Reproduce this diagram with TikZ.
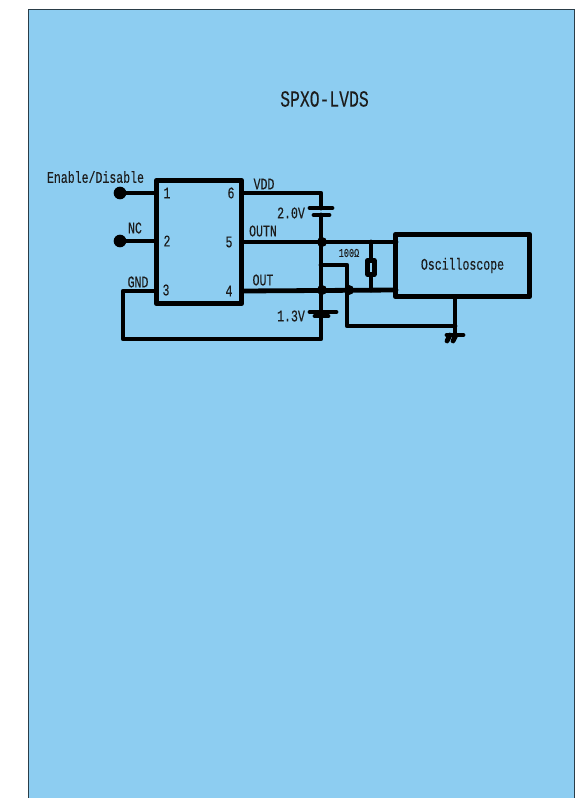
\documentclass[tikz,border=0pt]{standalone}
\usepackage{fontspec}
\setmainfont{Liberation Mono}[FakeStretch=0.71,FakeBold=0.2]
\definecolor{panelblue}{RGB}{141,205,241}
\definecolor{inkgrey}{RGB}{28,28,28}
\begin{document}
\begin{tikzpicture}
            [x=0.75pt,y=-0.75pt,
            wire/.style={line width=3.6pt, black, line cap=round, line join=round},
            plate/.style={line width=3.6pt, black, line cap=round},
            lbl/.style={inkgrey, inner sep=0, font=\fontsize{12.2}{12.2}\selectfont}]

            \useasboundingbox (0,0) rectangle (587,798);
            \fill[white] (0,0) rectangle (587,798);
            \draw[panelblue!30!black, fill=panelblue, line width=1.3pt] (28.5,9.5) rectangle (574.5,810);

            % chip and scope
            \node[draw, wire, minimum width=64pt, minimum height=92.6pt, inner sep=0] (chip) at (199,242) {};
            \node[draw, wire, minimum width=100.9pt, minimum height=46.9pt, inner sep=0, lbl, draw=black] (scope) at (462.5,265.5) {Oscilloscope};
            \node[draw, wire, fill=panelblue, minimum width=4.7pt, minimum height=10.7pt, inner sep=0] (res) at (371,267.5) {};

            % pin ends
            \coordinate (p1) at (156,193);
            \coordinate (p2) at (156,241);
            \coordinate (p3) at (156,291);
            \coordinate (p4) at (243,291);
            \coordinate (p5) at (243,242);
            \coordinate (p6) at (243,193);
            \node[circle, fill=black, inner sep=0, minimum size=9.5pt] (d1) at (120,193) {};
            \node[circle, fill=black, inner sep=0, minimum size=9.5pt] (d2) at (120,241) {};

            % corners, junctions, batteries
            \coordinate (c1) at (123,291);
            \coordinate (c2) at (123,339);
            \coordinate (c3) at (321,339);
            \coordinate (c4) at (321,193);
            \coordinate (c5) at (347,265);
            \coordinate (c6) at (347,326);
            \coordinate (c7) at (321,265);
            \coordinate (c8) at (455,326);
            \coordinate (s1) at (396,242);
            \coordinate (s2) at (396,290);
            \coordinate (s3) at (455,297);
            \coordinate (r1) at (371,242);
            \coordinate (r2) at (371,290);
            \node[circle, fill=black, inner sep=0, minimum size=7.5pt] (j1) at (322,242) {};
            \node[circle, fill=black, inner sep=0, minimum size=7.5pt] (j2) at (322,290) {};
            \node[circle, fill=black, inner sep=0, minimum size=7.5pt] (j3) at (349,290) {};
            \coordinate (b1) at (321,208);
            \coordinate (b2) at (321,215);
            \coordinate (b3) at (321,312);
            \coordinate (b4) at (321,316);
            \coordinate (b1l) at (310,208);
            \coordinate (b1r) at (332,208);
            \coordinate (b2l) at (314,215);
            \coordinate (b2r) at (329,215);
            \coordinate (b3l) at (310,312);
            \coordinate (b3r) at (336,312);
            \coordinate (b4l) at (315,316);
            \coordinate (b4r) at (328,316);
            \coordinate (g1) at (455,333);
            \coordinate (g2) at (447,335);
            \coordinate (g3) at (463,335);
            \coordinate (g4) at (450,335);
            \coordinate (g5) at (447,341);
            \coordinate (g6) at (456,335);
            \coordinate (g7) at (453,341);

            \draw[wire] (d1) -- (p1);
            \draw[wire] (d2) -- (p2);
            \draw[wire] (p3) -- (c1) -- (c2) -- (c3) -- (b4);
            \draw[wire] (b3) -- (b2);
            \draw[wire] (b1) -- (c4) -- (p6);
            \draw[wire] (p5) -- (s1);
            \draw[wire] (p4) -- (s2);
            \draw[wire] (r1) -- (res);
            \draw[wire] (res) -- (r2);
            \draw[wire] (c7) -- (c5) -- (c6) -- (c8);
            \draw[wire] (s3) -- (g1);
            \draw[plate] (b1l) -- (b1r);
            \draw[plate] (b2l) -- (b2r);
            \draw[plate] (b3l) -- (b3r);
            \draw[plate] (b4l) -- (b4r);
            \draw[plate] (g2) -- (g3);
            \draw[plate] (g4) -- (g5);
            \draw[plate] (g6) -- (g7);

            % labels
            \node[lbl, font=\fontsize{17.3}{17.3}\selectfont] (title) at (324.5,99) {SPXO-LVDS};
            \node[lbl] (lenable) at (95.5,177) {Enable/Disable};
            \node[lbl] (lnc) at (135,228) {NC};
            \node[lbl] (lgnd) at (138,282) {GND};
            \node[lbl] (n1) at (167,193) {1};
            \node[lbl] (n2) at (167,241) {2};
            \node[lbl] (n3) at (166,290) {3};
            \node[lbl] (n4) at (229,291) {4};
            \node[lbl] (n5) at (229,242) {5};
            \node[lbl] (n6) at (231,193) {6};
            \node[lbl] (lvdd) at (264,184) {VDD};
            \node[lbl] (lbatt1) at (291,213) {2.0V};
            \node[lbl] (loutn) at (263,231) {OUTN};
            \node[lbl] (lout) at (263,280) {OUT};
            \node[lbl, font=\fontsize{9}{9}\selectfont] (lres) at (349,253) {100Ω};
            \node[lbl] (lbatt2) at (291,316) {1.3V};
          \end{tikzpicture}
\end{document}
